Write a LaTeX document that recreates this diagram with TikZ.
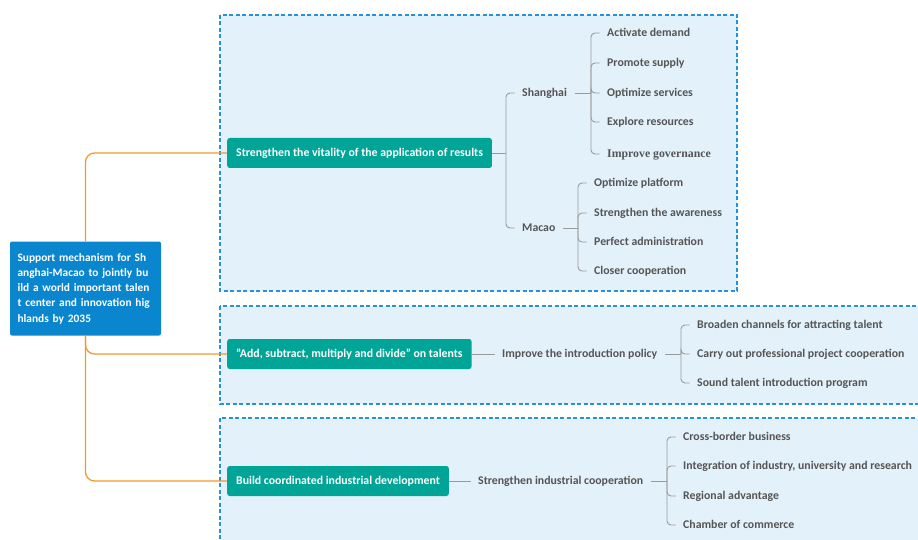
\documentclass[tikz,border=0pt]{standalone}
\usepackage{fontspec}
\setmainfont{Carlito}
\newfontfamily\govfont{Liberation Serif}
\usetikzlibrary{positioning}
\definecolor{RootBlue}{HTML}{0A86CF}
\definecolor{TopicTeal}{HTML}{00A597}
\definecolor{FrameBlue}{HTML}{2B90DA}
\definecolor{FrameFill}{HTML}{E3F1FA}
\definecolor{TrunkOrange}{HTML}{F4982A}
\definecolor{BranchGray}{HTML}{9A9A9A}
\definecolor{LeafText}{HTML}{555555}
\tikzset{
    % main theme, left
    rootbox/.style={
        rectangle,
        rounded corners=2pt,
        fill=RootBlue,
        text=white,
        text width=136pt,
        inner xsep=7.5pt,
        minimum height=94pt,
        align=left,
        font=\fontsize{11.4}{15.2}\selectfont\bfseries
    },
    % the three sub themes
    topicbox/.style={
        rectangle,
        rounded corners=2.5pt,
        fill=TopicTeal,
        text=white,
        inner xsep=9pt,
        minimum height=30pt,
        text height=10pt,
        text depth=2.5pt,
        anchor=west,
        font=\fontsize{11.8}{13}\selectfont\bfseries
    },
    leafbox/.style={
        inner xsep=7.5pt,
        inner ysep=2pt,
        text=LeafText,
        text height=10pt,
        text depth=2.5pt,
        anchor=west,
        font=\fontsize{11.8}{13}\selectfont\bfseries
    },
    groupframe/.style={
        draw=FrameBlue,
        fill=FrameFill,
        line width=1.1pt,
        dash pattern=on 4pt off 2.5pt
    },
    trunkline/.style={
        draw=TrunkOrange,
        line width=1.3pt,
        rounded corners=9pt
    },
    branchline/.style={
        draw=BranchGray,
        line width=0.9pt,
        rounded corners=4pt
    }
}
\begin{document}
\begin{tikzpicture}[x=1pt,y=-1pt]
    \useasboundingbox (0,0) rectangle (918,540);
    % dashed group frames
    \path[groupframe] (220,15) rectangle (737,291);
    \path[groupframe] (220,306) rectangle (925,404);
    \path[groupframe] (220,418) rectangle (925,548);

    \node[rootbox] (root) at (85.5,288.5) {
        Support mechanism for Sh\\
        anghai-Macao to jointly bu\\
        ild a world important talen\\
        t center and innovation hig\\
        hlands by 2035
    };

    \node[topicbox] (vitality) at (227,153) {Strengthen the vitality of the application of results};
    \node[topicbox] (talents) at (227,354) {"Add, subtract, multiply and divide" on talents};
    \node[topicbox] (industry) at (227,481) {Build coordinated industrial development};

    % first group
    \node[leafbox] (shanghai) at (514.5,93) {Shanghai};
    \node[leafbox] (macao) at (514.5,228) {Macao};
    \node[leafbox] (demand) at (599.5,33) {Activate demand};
    \node[leafbox] (supply) at (599.5,63) {Promote supply};
    \node[leafbox] (services) at (599.5,93) {Optimize services};
    \node[leafbox] (resources) at (599.5,122) {Explore resources};
    \node[leafbox, font=\fontsize{11.8}{13}\selectfont\govfont\bfseries] (governance) at (599.5,154) {Improve governance};
    \node[leafbox] (platform) at (586.5,183) {Optimize platform};
    \node[leafbox] (awareness) at (586.5,213) {Strengthen the awareness};
    \node[leafbox] (administration) at (586.5,242) {Perfect administration};
    \node[leafbox] (closer) at (586.5,271) {Closer cooperation};

    % second group
    \node[leafbox] (policy) at (494.5,354) {Improve the introduction policy};
    \node[leafbox] (channels) at (689.5,325) {Broaden channels for attracting talent};
    \node[leafbox] (project) at (689.5,354) {Carry out professional project cooperation};
    \node[leafbox] (program) at (689.5,383) {Sound talent introduction program};

    % third group
    \node[leafbox] (cooperation) at (470.5,481) {Strengthen industrial cooperation};
    \node[leafbox] (crossborder) at (675.5,437) {Cross-border business};
    \node[leafbox] (integration) at (675.5,466) {Integration of industry, university and research};
    \node[leafbox] (regional) at (675.5,496) {Regional advantage};
    \node[leafbox] (chamber) at (675.5,525) {Chamber of commerce};

    % orange trunk
    \draw[trunkline] (vitality.west) -| (root.north);
    \draw[trunkline] (root.south) |- (talents.west);
    \draw[trunkline] (root.south) |- (industry.west);

    % gray branches
    \coordinate (vitJ) at ([xshift=-8.5pt]shanghai.west |- vitality.east);
    \draw[branchline] (vitality.east) -- (vitJ);
    \draw[branchline] (vitJ) |- (shanghai.west);
    \draw[branchline] (vitJ) |- (macao.west);

    \coordinate (shJ) at ([xshift=-8.5pt]demand.west |- shanghai.east);
    \draw[branchline] (shanghai.east) -- (shJ);
    \draw[branchline] (shJ) |- (demand.west);
    \draw[branchline] (shJ) |- (supply.west);
    \draw[branchline] (shJ) |- (services.west);
    \draw[branchline] (shJ) |- (resources.west);
    \draw[branchline] (shJ) |- (governance.west);

    \coordinate (maJ) at ([xshift=-8.5pt]platform.west |- macao.east);
    \draw[branchline] (macao.east) -- (maJ);
    \draw[branchline] (maJ) |- (platform.west);
    \draw[branchline] (maJ) |- (awareness.west);
    \draw[branchline] (maJ) |- (administration.west);
    \draw[branchline] (maJ) |- (closer.west);

    \draw[branchline] (talents.east) -- (policy.west);
    \coordinate (poJ) at ([xshift=-8.5pt]channels.west |- policy.east);
    \draw[branchline] (policy.east) -- (poJ);
    \draw[branchline] (poJ) |- (channels.west);
    \draw[branchline] (poJ) |- (project.west);
    \draw[branchline] (poJ) |- (program.west);

    \draw[branchline] (industry.east) -- (cooperation.west);
    \coordinate (coJ) at ([xshift=-8.5pt]crossborder.west |- cooperation.east);
    \draw[branchline] (cooperation.east) -- (coJ);
    \draw[branchline] (coJ) |- (crossborder.west);
    \draw[branchline] (coJ) |- (integration.west);
    \draw[branchline] (coJ) |- (regional.west);
    \draw[branchline] (coJ) |- (chamber.west);
\end{tikzpicture}
\end{document}
